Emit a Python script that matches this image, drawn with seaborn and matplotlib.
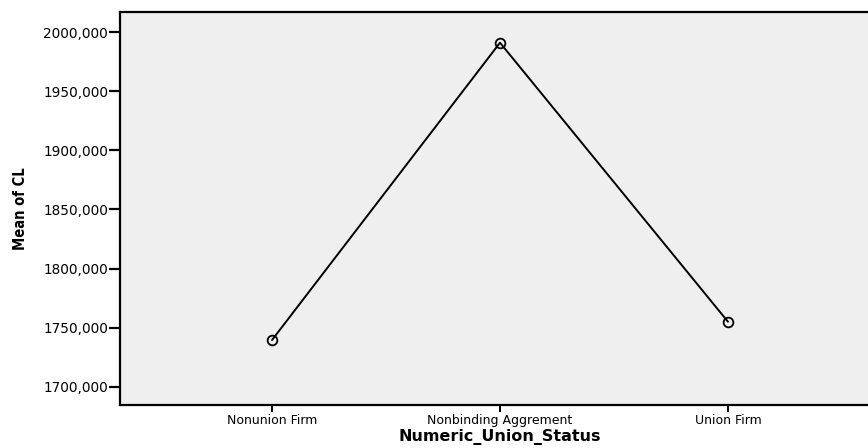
import matplotlib
matplotlib.use("Agg")
import matplotlib.pyplot as plt
from matplotlib import font_manager
from matplotlib.ticker import FuncFormatter, FixedLocator
import seaborn as sns
import pandas as pd

categories = ["Nonunion Firm", "Nonbinding Aggrement", "Union Firm"]
mean_cl = [1739.5, 1991.2, 1755.0]
y_ticks = [1700, 1750, 1800, 1850, 1900, 1950, 2000]

df = pd.DataFrame({"Numeric_Union_Status": categories, "Mean of CL": mean_cl})

sns.set_style("white")
plt.rcParams["font.family"] = ["DejaVu Sans"]
plt.rcParams["text.color"] = "black"
plt.rcParams["axes.labelcolor"] = "black"
plt.rcParams["xtick.color"] = "black"
plt.rcParams["ytick.color"] = "black"

names = {f.name for f in font_manager.fontManager.ttflist}
if "Liberation Sans Narrow" in names:
    ylab_font = dict(family=["Liberation Sans Narrow"], fontsize=13)
else:
    ylab_font = dict(family=["DejaVu Sans"], fontstretch="condensed", fontsize=10.5)

W, H = 868, 448
fig = plt.figure(figsize=(W / 100, H / 100), dpi=100)
# axes: left 120px, top 12px, bottom 404.5px, right 880px (beyond image)
ax = fig.add_axes([120 / W, 1 - 404.5 / H, (880 - 120) / W, (404.5 - 12) / H])
ax.set_facecolor("#efefef")

sns.lineplot(data=df, x="Numeric_Union_Status", y="Mean of CL", ax=ax, sort=False,
             color="black", linewidth=1.4, marker="o", markersize=7,
             markerfacecolor="none", markeredgecolor="black", markeredgewidth=1.3)

ax.set_xlim(-0.667, 2.667)
ax.set_ylim(1684.9, 2017.2)
ax.yaxis.set_major_locator(FixedLocator(y_ticks))
ax.yaxis.set_major_formatter(FuncFormatter(lambda v, p: f"{v:.3f}".replace(".", ",")))

for s in ["left", "bottom", "top"]:
    ax.spines[s].set_visible(True)
    ax.spines[s].set_color("black")
    ax.spines[s].set_linewidth(1.6)
ax.spines["right"].set_visible(False)

ax.tick_params(axis="y", which="major", direction="out", length=8, width=1.6,
               color="black", labelcolor="black", pad=0.5, labelsize=9.8, left=True)
ax.tick_params(axis="x", which="major", direction="out", length=5, width=1.4,
               color="black", labelcolor="black", pad=2, labelsize=9, bottom=True)

ax.set_xlabel("Numeric_Union_Status", fontsize=11.5, fontweight="bold", color="black")
ax.xaxis.set_label_coords(0.5, -(437 - 404.5) / 392.5)
ax.xaxis.label.set_va("center")
ax.set_ylabel("Mean of CL", fontweight="bold", color="black", **ylab_font)
ax.yaxis.set_label_coords(-(120 - 28) / 760, 0.5)

fig.savefig("out.png", dpi=100)
